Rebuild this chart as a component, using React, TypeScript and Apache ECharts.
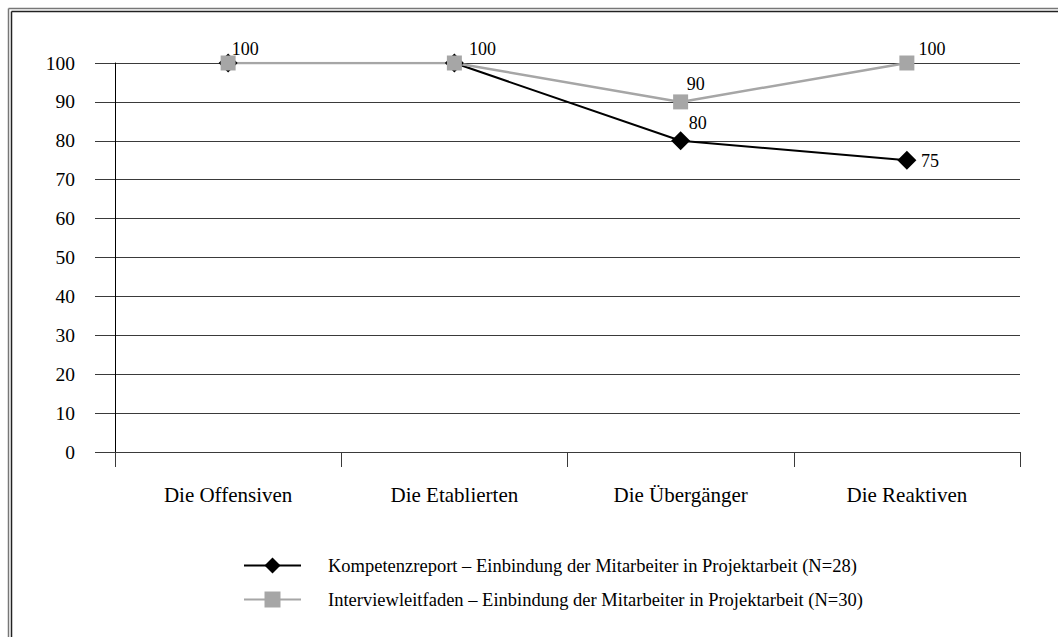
import React, { useEffect, useRef } from "react";
import * as echarts from "echarts";

const categories = ["Die Offensiven", "Die Etablierten", "Die Übergänger", "Die Reaktiven"];
const kompetenzValues = [100, 100, 80, 75];
const interviewValues = [100, 100, 90, 100];
const kompetenzName = "Kompetenzreport – Einbindung der Mitarbeiter in Projektarbeit (N=28)";
const interviewName = "Interviewleitfaden – Einbindung der Mitarbeiter in Projektarbeit (N=30)";

const FONT = "Liberation Serif, Times New Roman, serif";

// label offsets per point (show flag, dx, dy)
const kompetenzLabelOffsets: [boolean, number, number][] = [
  [false, 0, 0],
  [false, 0, 0],
  [true, 17, -18],
  [true, 23, 1],
];
const interviewLabelOffsets: [boolean, number, number][] = [
  [true, 17, -14],
  [true, 28, -14],
  [true, 15, -18],
  [true, 25, -14],
];

function buildData(values: number[], offs: [boolean, number, number][]) {
  return values.map((v, i) => ({
    value: v,
    label: {
      show: offs[i][0],
      position: "inside",
      offset: [offs[i][1], offs[i][2]],
      color: "#000",
      fontFamily: FONT,
      fontSize: 18,
    },
  }));
}

export default function App() {
  const ref = useRef<HTMLDivElement>(null);
  useEffect(() => {
    document.body.style.margin = "0";
    if (!ref.current) return;
    const chart = echarts.init(ref.current, null, { renderer: "svg" });
    const gridColor = "#3a3a3a";
    chart.setOption({
      animation: false,
      backgroundColor: "#fff",
      textStyle: { fontFamily: FONT },
      grid: { left: 115, right: 38, top: 63, bottom: 185, containLabel: false },
      graphic: [
        { type: "line", shape: { x1: 8.5, y1: 8.5, x2: 1058, y2: 8.5 }, style: { stroke: "#777", lineWidth: 1.5 } },
        { type: "line", shape: { x1: 11.5, y1: 11.5, x2: 1058, y2: 11.5 }, style: { stroke: "#222", lineWidth: 1.5 } },
        { type: "line", shape: { x1: 8.5, y1: 8.5, x2: 8.5, y2: 637 }, style: { stroke: "#777", lineWidth: 1.5 } },
        { type: "line", shape: { x1: 11.5, y1: 11.5, x2: 11.5, y2: 637 }, style: { stroke: "#222", lineWidth: 1.5 } },
      ],
      legend: {
        orient: "vertical",
        left: 238,
        top: 551,
        itemWidth: 57,
        itemHeight: 20,
        itemGap: 15,
        data: [kompetenzName, interviewName],
        textStyle: { fontFamily: FONT, fontSize: 18.5, color: "#000", padding: [0, 0, 0, 22] },
      },
      xAxis: {
        type: "category",
        data: categories,
        boundaryGap: true,
        axisLine: { show: true, lineStyle: { color: gridColor, width: 1 } },
        axisTick: { show: true, length: 15, interval: 0, lineStyle: { color: gridColor } },
        axisLabel: { margin: 32, fontFamily: FONT, fontSize: 21, color: "#000", interval: 0 },
      },
      yAxis: {
        type: "value",
        min: 0,
        max: 100,
        interval: 10,
        axisLine: { show: true, lineStyle: { color: "#000", width: 1 } },
        axisTick: { show: true, length: 20, lineStyle: { color: gridColor } },
        axisLabel: { margin: 40, fontFamily: FONT, fontSize: 19.5, color: "#000" },
        splitLine: { show: true, lineStyle: { color: gridColor, width: 1 } },
      },
      series: [
        {
          name: kompetenzName,
          type: "line",
          data: buildData(kompetenzValues, kompetenzLabelOffsets),
          symbol: "diamond",
          symbolSize: 19,
          lineStyle: { color: "#000", width: 2 },
          itemStyle: { color: "#000" },
        },
        {
          name: interviewName,
          type: "line",
          data: buildData(interviewValues, interviewLabelOffsets),
          symbol: "rect",
          symbolSize: 15,
          lineStyle: { color: "#a6a6a6", width: 2.5 },
          itemStyle: { color: "#a6a6a6" },
        },
      ],
    });
    return () => chart.dispose();
  }, []);
  return <div ref={ref} style={{ width: 1058, height: 637 }} />;
}
